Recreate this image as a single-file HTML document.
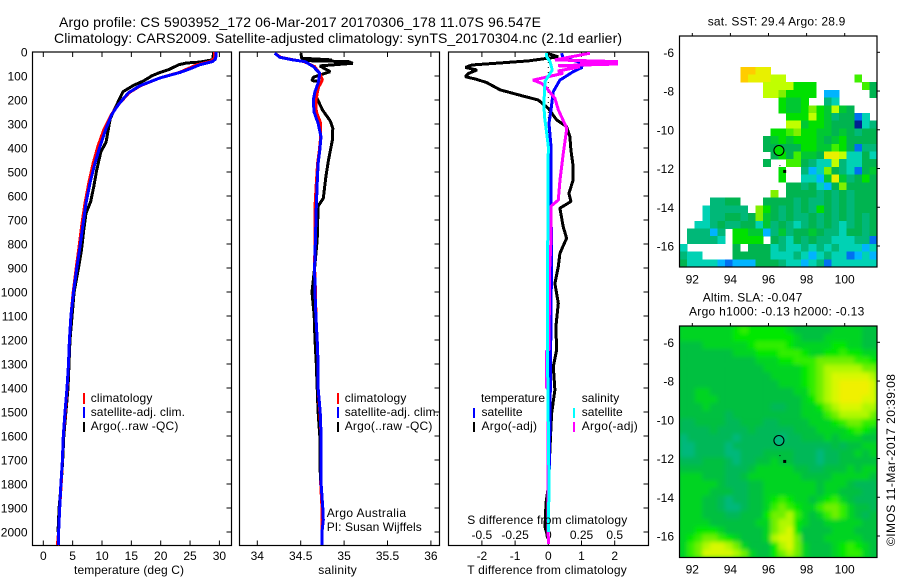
<!DOCTYPE html>
<html lang="en">
<head>
<meta charset="utf-8">
<title>Argo profile</title>
<style>
html,body{margin:0;padding:0;background:#fff;}
svg{display:block;}
text{font-family:"Liberation Sans",sans-serif;font-size:12px;fill:#000;}
.t14{font-size:14px;}
</style>
</head>
<body>
<svg id="chart" xmlns="http://www.w3.org/2000/svg" width="900" height="580" viewBox="0 0 900 580">
<defs>
<clipPath id="clip-sla"><rect x="679.5" y="326" width="197.5" height="231.5"/></clipPath>
<filter id="soft" x="-5%" y="-5%" width="110%" height="110%"><feGaussianBlur stdDeviation="2.2"/></filter>
</defs>
<g id="title-block">
<text class="t14" x="59" y="27" textLength="482">Argo profile: CS 5903952_172 06-Mar-2017 20170306_178 11.07S 96.547E</text>
<text class="t14" x="54" y="43" textLength="568">Climatology: CARS2009. Satellite-adjusted climatology: synTS_20170304.nc (2.1d earlier)</text>
</g>
<g id="p1"></g>
<g id="p2"></g>
<g id="p3"></g>
<g id="m1"></g>
<g id="m2"></g>

<text x="74" y="574" textLength="110">temperature (deg C)</text>
<text x="318.3" y="574" textLength="38.5">salinity</text>
<text x="467.3" y="574" textLength="159.5">T difference from climatology</text>
<text x="467.3" y="524" textLength="160">S difference from climatology</text>

<g>
<rect x="83" y="393" width="2" height="11" fill="#f00"/>
<rect x="83" y="407" width="2" height="11" fill="#00f"/>
<rect x="83" y="422" width="2" height="10" fill="#000"/>
<text x="90.7" y="402" textLength="61.7">climatology</text>
<text x="90.7" y="416" textLength="94.3">satellite-adj. clim.</text>
<text x="90.7" y="430" textLength="87.7">Argo(..raw -QC)</text>
</g>
<g>
<rect x="337" y="393" width="2" height="11" fill="#f00"/>
<rect x="337" y="407" width="2" height="11" fill="#00f"/>
<rect x="337" y="422" width="2" height="10" fill="#000"/>
<text x="344.7" y="402" textLength="61.7">climatology</text>
<text x="344.7" y="416" textLength="94.3">satellite-adj. clim.</text>
<text x="344.7" y="430" textLength="87.7">Argo(..raw -QC)</text>
<text x="326.7" y="517" textLength="79.3">Argo Australia</text>
<text x="326.7" y="531" textLength="95">PI: Susan Wijffels</text>
</g>
<g>
<text x="481" y="402" textLength="64">temperature</text>
<rect x="473" y="408" width="2" height="10" fill="#00f"/>
<rect x="473" y="422" width="2" height="10" fill="#000"/>
<text x="481.5" y="416" textLength="41">satellite</text>
<text x="481.5" y="430" textLength="55.5">Argo(-adj)</text>
<text x="581.7" y="402" textLength="37.5">salinity</text>
<rect x="573" y="408" width="2" height="10" fill="#0ff"/>
<rect x="573" y="422" width="2" height="10" fill="#f0f"/>
<text x="581.7" y="416" textLength="41">satellite</text>
<text x="581.7" y="430" textLength="56">Argo(-adj)</text>
</g>

<text x="707.7" y="25.7" textLength="137.6">sat. SST: 29.4  Argo: 28.9</text>
<text x="702.7" y="301.7" textLength="99.6">Altim. SLA: -0.047</text>
<text x="689" y="315.7" textLength="175.3">Argo h1000: -0.13 h2000: -0.13</text>
<text transform="translate(895,546) rotate(-90)" x="0" y="0" textLength="172">©IMOS 11-Mar-2017 20:39:08</text>
</svg>

<script>
// ---- depth axis ----
const depthTicks = [0,100,200,300,400,500,600,700,800,900,1000,1100,1200,1300,1400,1500,1600,1700,1800,1900,2000];
const tempTicks = [0,5,10,15,20,25,30];
const salTicks = [34,34.5,35,35.5,36];
const salTickLabels = ['34','34.5','35','35.5','36'];
const tDiffTicks = [-2,-1,0,1,2];
const tDiffLabels = ['-2','-1','0','1','2'];
const sDiffLabels = ['-0.5','-0.25','0','0.25','0.5'];
const lonTicks = [92,94,96,98,100];
const latTicks = [-6,-8,-10,-12,-14,-16];

// ---- temperature series ----
const tempClimDepth = [0,20,30,40,53,70,85,108,140,170,219,261,324,393,463,546,630,713,810,900,1000,1100,1200,1300,1400,1500,1600,1700,1800,1900,2000,2055];
const tempClimValue = [29.2,29.2,29.0,28.4,26.2,24.6,23.2,19.9,16.6,14.6,12.8,11.6,10.3,9.3,8.5,7.75,7.1,6.6,6.1,5.6,5.1,4.7,4.45,4.3,4.05,3.75,3.4,3.25,3.05,2.8,2.6,2.4];
const tempSatDepth = [0,20,30,40,53,70,85,108,140,170,219,261,324,393,463,546,630,713,810,900,1000,1100,1200,1300,1400,1500,1600,1700,1800,1900,2000,2055];
const tempSatValue = [29.4,29.4,29.3,28.8,26.7,25.0,23.3,19.9,16.5,14.5,12.8,11.65,10.6,9.66,8.8,7.96,7.27,6.8,6.25,5.7,5.15,4.7,4.45,4.3,4.04,3.7,3.4,3.25,3.0,2.8,2.6,2.55];
const tempArgoDepth = [0,32,42,46,53,74,85,99,120,140,165,200,236,278,375,417,492,560,623,672,740,825,900,1000,1200,1400,1500,1600,1700,1800,1900,2000];
const tempArgoValue = [29.0,28.9,26.7,24.4,23.1,21.3,19.9,18.5,17.1,15.3,13.6,12.9,12.2,11.4,10.7,9.8,9.1,8.6,8.07,7.27,6.9,6.5,6.0,5.25,4.55,4.2,3.85,3.5,3.3,3.05,2.7,2.5];

// ---- salinity series ----
const salClimDepth = [5,22,33,40,61,89,117,150,200,249,297,353,408,464,547,644,769,900,1000,1100,1200,1300,1400,1500,1600,1700,1800,1900,2000,2055];
const salClimValue = [34.2,34.27,34.42,34.54,34.66,34.72,34.75,34.70,34.676,34.68,34.73,34.73,34.715,34.695,34.68,34.665,34.665,34.66,34.67,34.675,34.69,34.70,34.70,34.72,34.735,34.735,34.73,34.745,34.745,34.745];
const salSatDepth = [5,22,33,40,61,89,130,165,200,249,297,353,408,464,547,644,769,900,1000,1100,1200,1300,1400,1500,1600,1700,1800,1900,1950,2000,2055];
const salSatValue = [34.2,34.26,34.41,34.55,34.645,34.72,34.70,34.665,34.645,34.653,34.70,34.734,34.72,34.70,34.69,34.68,34.67,34.66,34.665,34.675,34.69,34.70,34.70,34.725,34.735,34.735,34.735,34.755,34.76,34.745,34.745];
const salArgoDepth = [5,26,33,36,40,47,58,82,96,105,119,123,186,241,287,318,367,450,519,610,642,783,900,1000,1100,1200,1300,1400,1500,1600,1700,1800];
const salArgoValue = [34.503,34.51,34.857,34.55,35.05,35.1,34.72,34.84,34.72,34.645,34.63,34.72,34.68,34.75,34.84,34.87,34.865,34.82,34.79,34.76,34.70,34.69,34.66,34.63,34.655,34.665,34.68,34.69,34.70,34.72,34.72,34.73];

// ---- difference series ----
const dTArgoDepth = [5,20,37,54,64,75,89,103,114,128,158,186,200,235,283,311,353,408,478,533,589,623,651,728,776,839,894,964,1047,1144,1242,1311,1408,1506,1650,1811,1880,1978,2030];
const dTArgoValue = [-0.05,0.3,-0.6,-2.3,-2.5,-2.15,-2.4,-2.5,-2.15,-1.85,-1.45,-0.7,-0.3,0,0.25,0.55,0.65,0.68,0.75,0.75,0.62,0.68,0.35,0.45,0.55,0.35,0.3,0.2,0.3,0.23,0.25,0.15,0.2,0.1,0.05,0,-0.07,-0.1,0];
const dTSatDepth = [5,26,40,64,82,117,165,241,297,394,644,839,1100,1533,1811,2000];
const dTSatValue = [0.4,0.45,0.9,1.02,0.75,0.35,0.15,0.08,0.02,0.08,0.08,0.1,0.08,0.05,0.02,0];
const dSArgoDepth = [5,33,40,44,50,57,62,79,89,117,131,151,193,241,318,422,533,617,642,783,908,1240,1245,1400,1405,1700,2050];
const dSArgoValue = [0.314,0.05,0.525,0.239,0.525,0.073,0.239,0.073,0.11,-0.115,-0.05,-0.012,0.05,0.075,0.139,0.113,0.088,0.075,0.02,0.02,0.01,0.005,-0.012,-0.012,-0.004,-0.004,0];
const dSSatDepth = [5,20,40,75,123,200,262,339,394,900,1300,1811,2000];
const dSSatValue = [-0.012,-0.012,0.013,0.03,-0.025,-0.032,-0.03,-0.012,0,-0.005,-0.005,0.005,0];

// ---- SST map cells (0.4 deg), north to south; '.' = no data ----
const sstRows = [
"..........................",
"..........................",
"..........................",
"..........................",
"........jjii..............",
"........jiiihh.........f..",
"...........hhhheee......fc",
"...........hhgeeee.kk....c",
".............edde..ba.....",
".............eddegedhdc...",
"..............eeehedbccla.",
"..............hhdeedcccmab",
"............eefgeeddcdcbcc",
"...........cdedeeedcdecccc",
"...........ccccceeddfeclbb",
"............cecfddciihaaca",
"...........c..ffcbaahbaacc",
".............e..bkagcbalcd",
".............e..aakdidbcec",
"..............ccbcakcgcccc",
"............g.ccccbcbcbccc",
"....bbcc...ccccbcbbcbcbccc",
"...abbbbb.gecbcbcbecbcbccc",
"...abbccbcgdcbcbbcbcbcbcbc",
"..aabcbbccadbcbabcbcbabcbc",
".bbbkb.eeddkbdbccdcbbaccbc",
".bbbba.eeee.cbacbcbbaaabbl",
"a......c.cccabaabababaaaka",
"baa....cccccaaabakabaalkak",
"caaaaklkkkcccbaakablaaaaaa"
];
const sstPalette = {a:'#00d2b4',b:'#00b878',c:'#00b450',d:'#00c832',e:'#00e000',f:'#40f000',g:'#80f000',h:'#c0ff00',i:'#e8f000',j:'#ffcc00',k:'#00b4ff',l:'#0070f0',m:'#002090'};

// ---- SLA map cells (0.4 deg), north to south ----
const slaRows = [
"dddddddefeeeeedcccccddddcc",
"dddddddeeeeeeeedcccdddddcc",
"cccddddddeffffedddddeeddcc",
"cccccccdddeeefffeddeefeedd",
"ccccccccccdddeefffgggggffe",
"cccccccccccdddddefghhhhhgg",
"ccccccccccccddddefghiiiiih",
"cccccccccccccdddefghijjjji",
"ccddcccccccccccddfghijjjji",
"ccdddcccccccccccdeghijjjii",
"cccdccccccccbbccddeghiiihh",
"ccccccbcccccccccdddfghhhhg",
"bbccccbbcccbbccccdddefggff",
"bbbbcbbbbcbbbbbcccddddefed",
"abbbbbbabbbbbabbcccdcdddcc",
"aabbbbabbbbbbbbbbbbbcbccdd",
"aabbbbaabbbccccbbbabbccdcd",
"bbbcccbabbccdccbbbabbccccc",
"ccccccbbbcdddddccbbcccdcdd",
"dddcccbbcdddddddccccdddddc",
"dddddcbbbccdddddddcdddcbbb",
"ddddcccbbccdddddddcddcccbb",
"dddccbabbccdefeddcdefdcbbb",
"dddccbaabccdfgfeddfggfdccb",
"dddcccbbcccegghfdcdfgfdcbc",
"ddddccccccddghhedccdddddcc",
"ddeeedcccccdghieccccdddccc",
"defggfedcccdhiigcccdddddcc",
"dfghiihgdcccehigdcccdefedc",
"dfgiiiihgdcceghgdcccdeffdc"
];
const slaPalette = {a:'#00b87c',b:'#00b858',c:'#00c040',d:'#00d420',e:'#00e800',f:'#30ee00',g:'#70f000',h:'#b0f800',i:'#d8f800',j:'#f0f000'};

// ---- float positions ----
const floatLon = [96.547];
const floatLat = [-11.07];
const trackLon = [96.6,96.85];
const trackLat = [-11.85,-12.15];

// ---- axis functions ----
const yDepth = d => 52 + 0.24 * d;
const xTemp = v => 43.3 + 5.87 * v;
const xSal = v => 257.3 + 86.8 * (v - 34);
const xDT = v => 548.3 + 33.2 * v;
const xDS = v => 548.3 + 132.8 * v;
const xLon = v => 692.3 + 19.05 * (v - 92);
const yLat1 = v => 52.3 + 19.37 * (-6 - v);
const yLat2 = v => 342.3 + 19.37 * (-6 - v);

const NS = 'http://www.w3.org/2000/svg';
function mk(parent, tag, attrs) {
  const el = document.createElementNS(NS, tag);
  for (const k in attrs) el.setAttribute(k, attrs[k]);
  parent.appendChild(el);
  return el;
}
function frame(g, x, y, w, h) {
  const el = mk(g, 'rect', {x:x, y:y, width:w, height:h, fill:'none', stroke:'#000', 'stroke-width':1.2});
  
  
}
function tick(g, x1, y1, x2, y2) {
  const el = mk(g, 'line', {x1:x1, y1:y1, x2:x2, y2:y2, stroke:'#000', 'stroke-width':1});
  
  
}
function label(g, s, x, y, anchor) {
  const el = mk(g, 'text', {x:x, y:y, 'text-anchor':anchor});
  el.textContent = s;
  
  
}
function series(g, depths, values, xf, color, name, w) {
  const pts = depths.map((d, i) => xf(values[i]).toFixed(1) + ',' + yDepth(d).toFixed(1)).join(' ');
  const el = mk(g, 'polyline', {points:pts, fill:'none', stroke:color, 'stroke-width':w, 'stroke-linejoin':'bevel', 'shape-rendering':'crispEdges'});
  
  
}
function profileFrame(g, left, right, showDepth) {
  const top = 52, bottom = 545.5;
  frame(g, left, top, right - left, bottom - top);
  depthTicks.forEach(d => {
    tick(g, right - 5, yDepth(d), right, yDepth(d));
    if (showDepth) label(g, String(d), 27.5, yDepth(d) + 4.5, 'end');
  });
}
function xTicks(g, positions, labels, top, bottom, baseline) {
  positions.forEach((x, i) => {
    tick(g, x, top, x, top + 5);
    tick(g, x, bottom - 5, x, bottom);
    label(g, labels[i], x, baseline, 'middle');
  });
}

// temperature panel
const p1 = document.getElementById('p1');
profileFrame(p1, 32.5, 231.5, true);
xTicks(p1, tempTicks.map(xTemp), tempTicks.map(String), 52, 545.5, 560);
series(p1, tempArgoDepth, tempArgoValue, xTemp, '#000', 'temperature-argo-line', 3);
series(p1, tempClimDepth, tempClimValue, xTemp, '#f00', 'temperature-climatology-line', 3);
series(p1, tempSatDepth, tempSatValue, xTemp, '#00f', 'temperature-satellite-line', 3);

// salinity panel
const p2 = document.getElementById('p2');
profileFrame(p2, 239.5, 439.5, false);
xTicks(p2, salTicks.map(xSal), salTickLabels, 52, 545.5, 560);
series(p2, salArgoDepth, salArgoValue, xSal, '#000', 'salinity-argo-line', 3);
series(p2, salClimDepth, salClimValue, xSal, '#f00', 'salinity-climatology-line', 3);
series(p2, salSatDepth, salSatValue, xSal, '#00f', 'salinity-satellite-line', 3);

// difference panel
const p3 = document.getElementById('p3');
profileFrame(p3, 448.5, 648.5, false);
xTicks(p3, tDiffTicks.map(xDT), tDiffLabels, 52, 545.5, 560);
tDiffTicks.forEach((v, i) => label(p3, sDiffLabels[i], xDT(v), 539, 'middle'));
const zero = mk(p3, 'line', {x1:xDT(0), y1:yDepth(0), x2:xDT(0), y2:yDepth(2055), stroke:'#000', 'stroke-width':1, 'stroke-dasharray':'1 4'});


series(p3, dTArgoDepth, dTArgoValue, xDT, '#000', 't-difference-argo-line', 3);
series(p3, dTSatDepth, dTSatValue, xDT, '#00f', 't-difference-satellite-line', 3);
series(p3, dSArgoDepth, dSArgoValue, xDS, '#f0f', 's-difference-argo-line', 3);
series(p3, dSSatDepth, dSSatValue, xDS, '#0ff', 's-difference-satellite-line', 3);

// maps
function mapCells(g, rows, palette, top, cellH) {
  const cellW = 197.6 / 26;
  rows.forEach((row, r) => {
    for (let c = 0; c < row.length; c++) {
      const col = palette[row[c]];
      if (!col) continue;
      const el = mk(g, 'rect', {x:(679.5 + c * cellW).toFixed(2), y:(top + r * cellH).toFixed(2), width:(cellW + 0.3).toFixed(2), height:(cellH + 0.3).toFixed(2), fill:col});
      
      
    }
  });
}
function mapDecor(g, top, bottom, yLat, tickBase) {
  const left = 679.5, right = 877;
  frame(g, left, top, right - left, bottom - top);
  lonTicks.forEach(v => {
    tick(g, xLon(v), top - 3, xLon(v), top);
    label(g, String(v), xLon(v), tickBase, 'middle');
  });
  latTicks.forEach(v => {
    tick(g, right, yLat(v), right + 3, yLat(v));
    label(g, String(v), 674, yLat(v) + 4.5, 'end');
  });
}
function mapFloat(g, yLat, fill) {
  const c = mk(g, 'circle', {cx:xLon(floatLon[0]), cy:yLat(floatLat[0]), r:5, fill:fill, stroke:'#000', 'stroke-width':1.1});
  
  
  const a = mk(g, 'rect', {x:xLon(trackLon[0]) - 0.5, y:yLat(trackLat[0]) - 0.5, width:1, height:1, fill:'#000'});
  
  
  const b = mk(g, 'rect', {x:xLon(trackLon[1]) - 1.5, y:yLat(trackLat[1]) - 1.5, width:3, height:3, fill:'#000'});
  
  
}

const m1 = document.getElementById('m1');
const m1Cells = mk(m1, 'g', {'shape-rendering':'crispEdges'});
mapCells(m1Cells, sstRows, sstPalette, 36, 231 / 30);
mapDecor(m1, 36, 267, yLat1, 283.3);
mapFloat(m1, yLat1, '#00e000');

const m2 = document.getElementById('m2');
const m2Clip = mk(m2, 'g', {'clip-path':'url(#clip-sla)'});
mk(m2Clip, 'rect', {x:679, y:325, width:199, height:233, fill:'#00c838'});
const m2Cells = mk(m2Clip, 'g', {filter:'url(#soft)'});
mapCells(m2Cells, slaRows, slaPalette, 326, 231.5 / 30);
mapDecor(m2, 326, 557.5, yLat2, 573.3);
mapFloat(m2, yLat2, '#00b87c');
</script>
</body>
</html>
